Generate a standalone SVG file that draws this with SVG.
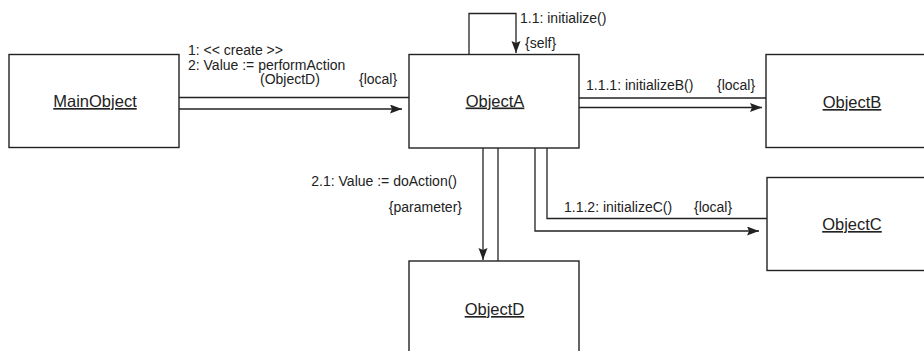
<svg xmlns="http://www.w3.org/2000/svg" width="924" height="351" viewBox="0 0 924 351">
<style>
.box{fill:#fff;stroke:#222;stroke-width:1.4}
.ln{fill:none;stroke:#222;stroke-width:1.3}
.lbl{font-family:"Liberation Sans",Arial,sans-serif;font-size:14px;fill:#222}
.name{font-family:"Liberation Sans",Arial,sans-serif;font-size:16.5px;fill:#222;text-anchor:middle;text-decoration:underline}
</style>
<defs>
<marker id="arr" markerUnits="userSpaceOnUse" markerWidth="13" markerHeight="10" refX="12" refY="4.5" orient="auto">
<path d="M0,0 L12,4.5 L0,9 L2,4.5 Z" fill="#222"/>
</marker>
</defs>
<rect width="924" height="351" fill="#fff"/>
<g id="connectors">
<line class="ln" x1="179" y1="97.5" x2="409" y2="97.5"/>
<line class="ln" x1="179" y1="109" x2="402" y2="109" marker-end="url(#arr)"/>
<polyline class="ln" points="469,54 469,13.5 516,13.5 516,53" marker-end="url(#arr)"/>
<line class="ln" x1="579" y1="98" x2="766" y2="98"/>
<line class="ln" x1="579" y1="107.5" x2="762" y2="107.5" marker-end="url(#arr)"/>
<line class="ln" x1="483" y1="148" x2="483" y2="260" marker-end="url(#arr)"/>
<line class="ln" x1="498" y1="148" x2="498" y2="261"/>
<polyline class="ln" points="547,148 547,218.5 767,218.5"/>
<polyline class="ln" points="535,148 535,231 759,231" marker-end="url(#arr)"/>
<text class="lbl" x="188" y="54.5">1: &lt;&lt; create &gt;&gt;</text>
<text class="lbl" x="188" y="69.5">2: Value := performAction</text>
<text class="lbl" x="260" y="84">(ObjectD)</text>
<text class="lbl" x="359" y="84">{local}</text>
<text class="lbl" x="520" y="22.5">1.1: initialize()</text>
<text class="lbl" x="525" y="48">{self}</text>
<text class="lbl" x="586" y="90">1.1.1: initializeB()</text>
<text class="lbl" x="717" y="90">{local}</text>
<text class="lbl" x="457" y="185.5" text-anchor="end">2.1: Value := doAction()</text>
<text class="lbl" x="462" y="211.5" text-anchor="end">{parameter}</text>
<text class="lbl" x="564" y="211.5">1.1.2: initializeC()</text>
<text class="lbl" x="694" y="211.5">{local}</text>
</g>
<g id="MainObject">
<rect class="box" x="9" y="54.5" width="170" height="93"/>
<text class="name" x="95" y="107">MainObject</text>
</g>
<g id="ObjectA">
<rect class="box" x="409" y="54.5" width="170" height="93.5"/>
<text class="name" x="495" y="106.5">ObjectA</text>
</g>
<g id="ObjectB">
<rect class="box" x="766" y="54.5" width="172" height="93"/>
<text class="name" x="852" y="108">ObjectB</text>
</g>
<g id="ObjectC">
<rect class="box" x="767" y="177.5" width="172" height="93"/>
<text class="name" x="852" y="230">ObjectC</text>
</g>
<g id="ObjectD">
<rect class="box" x="409" y="261" width="170" height="100"/>
<text class="name" x="494.5" y="315">ObjectD</text>
</g>
</svg>
